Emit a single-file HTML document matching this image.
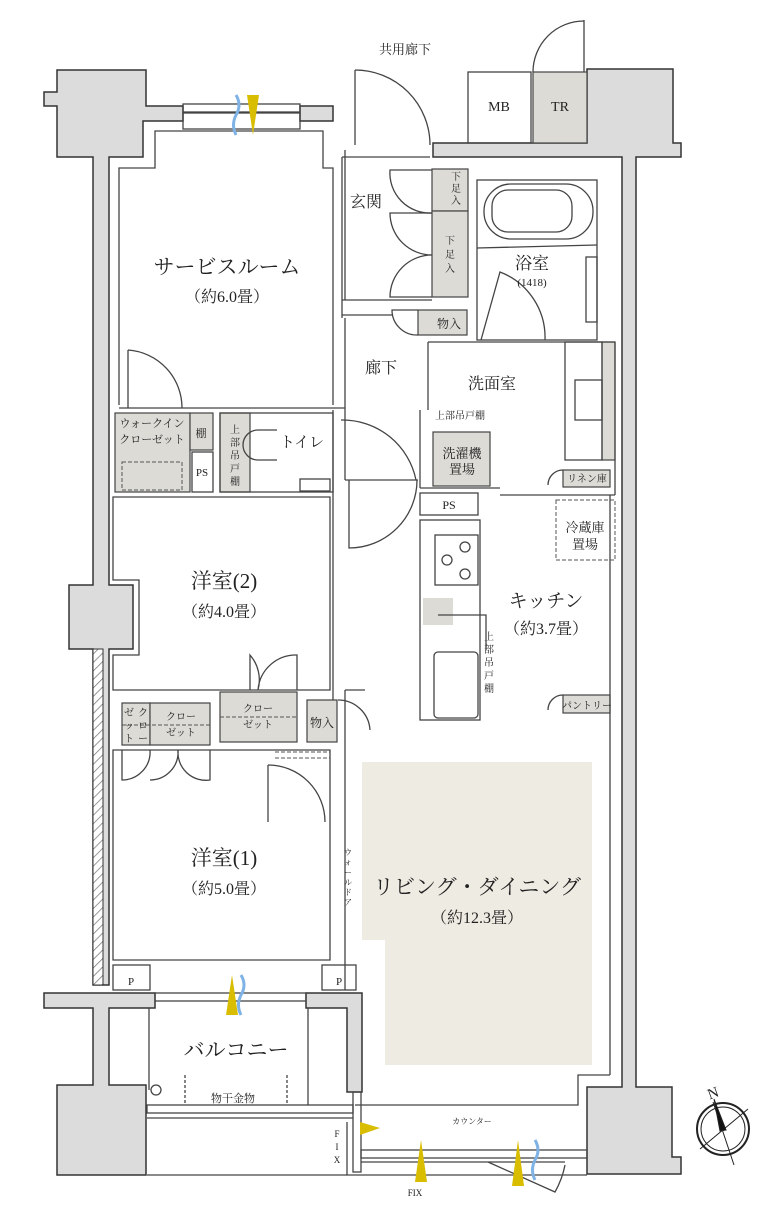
<!DOCTYPE html>
<html><head><meta charset="utf-8"><style>
html,body{margin:0;padding:0;background:#fff}
svg{display:block}
text{font-family:"Liberation Serif","Noto Serif CJK SC","Noto Sans CJK JP",serif;fill:#222}
</style></head><body>
<svg width="759" height="1212" viewBox="0 0 759 1212" xmlns="http://www.w3.org/2000/svg">
<g stroke="#333" stroke-width="1.5" fill="#dcdcdc">
<!-- top-left column -->
<path d="M57,70 H146 V106 H183 V121 H143 V157 H109 V585 H133 V649 H109 V985 H93 V649 H69 V585 H93 V157 H57 V106 H44 V92 H57 Z"/>
<!-- top band to right column -->
<path d="M300,106 H333 V121 H300 Z"/>
<path d="M433,143 H587 V69 H673 V143 H681 V157 H636 V1087 H672 V1157 H681 V1174 H587 V1087 H622 V157 H433 Z"/>
<!-- balcony wall left -->
<path d="M44,993 H155 V1008 H109 V1085 H146 V1175 H57 V1085 H93 V1008 H44 Z"/>
<path d="M306,993 H362 V1092 H347 V1008 H306 Z"/>
</g>
<!-- hatched strip -->
<defs><pattern id="h" width="6" height="6" patternUnits="userSpaceOnUse" patternTransform="rotate(45)"><rect width="6" height="6" fill="#fff"/><line x1="0" y1="0" x2="0" y2="6" stroke="#777" stroke-width="1.5"/></pattern></defs>
<rect x="93" y="649" width="10" height="336" fill="url(#h)" stroke="#333"/>
<!-- LD beige -->
<path d="M362,762 H592 V1065 H385 V940 H362 Z" fill="#eeebe2"/>
<!-- closets gray -->
<g fill="#dcdbd6" stroke="#444" stroke-width="1.2">
<rect x="533" y="72" width="54" height="71"/>
<rect x="432" y="169" width="36" height="42"/><rect x="432" y="211" width="36" height="86"/>
<rect x="418" y="310" width="49" height="25"/>
<rect x="115" y="413" width="75" height="79"/>
<rect x="190" y="413" width="23" height="37"/>
<rect x="220" y="413" width="30" height="79"/>
<rect x="122" y="703" width="28" height="42"/><rect x="150" y="703" width="60" height="42"/>
<rect x="220" y="692" width="77" height="50"/>
<rect x="307" y="700" width="30" height="42"/>
<rect x="602" y="342" width="13" height="118"/>
<rect x="433" y="432" width="57" height="54"/>
<rect x="563" y="470" width="47" height="17"/>
<rect x="563" y="695" width="47" height="18"/>
<rect x="423" y="598" width="30" height="27" stroke="none"/>
</g>
<g fill="none" stroke="#444" stroke-width="1.3">
<!-- MB -->
<rect x="468" y="72" width="63" height="71"/>
<!-- entrance door -->
<line x1="355" y1="70" x2="355" y2="145"/><path d="M355,70 A75,75 0 0 1 430,145"/>
<line x1="584" y1="20" x2="584" y2="72"/><path d="M533,72 A51,51 0 0 1 584,21"/>
<!-- top window -->
<rect x="183" y="104" width="117" height="8"/><rect x="183" y="113" width="117" height="16"/>
<!-- サービスルーム -->
<path d="M119,405 V168 H155 V131 H323 V168 H333 V405"/>
<line x1="345" y1="150" x2="345" y2="300"/><line x1="342" y1="157" x2="430" y2="157"/>
<line x1="119" y1="408" x2="345" y2="408"/>
<line x1="128" y1="350" x2="128" y2="408"/><path d="M128,350 A58,58 0 0 1 182,408"/>
<!-- 玄関 -->
<line x1="342" y1="157" x2="342" y2="318"/>
<line x1="342" y1="300" x2="432" y2="300"/><line x1="342" y1="315" x2="392" y2="315"/>
<path d="M432,170 H390 A40,40 0 0 0 432,213"/><path d="M432,213 H390 A42,42 0 0 0 432,255"/><path d="M432,255 A42,42 0 0 0 390,297 H432"/>
<path d="M418,310 H392 A25,25 0 0 0 418,335"/>
<!-- bath -->
<rect x="477" y="180" width="120" height="160"/>
<rect x="484" y="184" width="109" height="55" rx="27"/><rect x="492" y="190" width="80" height="42" rx="16"/>
<line x1="477" y1="248" x2="597" y2="245"/>
<path d="M481,340 L500,272 A70,70 0 0 1 545,340"/>
<rect x="586" y="257" width="11" height="65"/>
<!-- 洗面 -->
<line x1="428" y1="342" x2="615" y2="342"/><line x1="428" y1="342" x2="428" y2="410"/>
<line x1="420" y1="410" x2="420" y2="488"/>
<rect x="565" y="342" width="37" height="118"/><rect x="575" y="380" width="27" height="40"/>
<line x1="420" y1="488" x2="500" y2="488"/><line x1="500" y1="495" x2="562" y2="495"/>
<line x1="562" y1="495" x2="615" y2="495"/>
<path d="M563,470 A15,15 0 0 0 548,485"/>
<!-- kitchen -->
<rect x="420" y="493" width="58" height="22"/>
<rect x="420" y="520" width="60" height="200"/>
<rect x="435" y="535" width="43" height="50"/>
<circle cx="465" cy="547" r="5"/><circle cx="447" cy="560" r="5"/><circle cx="465" cy="574" r="5"/>
<rect x="434" y="652" width="44" height="66" rx="4"/>
<path d="M438,615 H486 V650"/>
<path d="M563,695 A15,15 0 0 0 548,710"/>
<line x1="610" y1="495" x2="610" y2="1075"/><line x1="615" y1="342" x2="615" y2="495"/>
<path d="M610,1075 H578 V1105 H355"/>
<!-- hallway walls -->
<line x1="333" y1="410" x2="333" y2="700"/><line x1="345" y1="318" x2="345" y2="480"/>
<line x1="345" y1="480" x2="418" y2="480"/>
<path d="M349,480 V548 A68,68 0 0 0 417,480"/>
<path d="M341,420 A75,75 0 0 1 416,480"/>
<line x1="345" y1="690" x2="345" y2="990"/>
<path d="M345,690 H365 M338,700 A32,32 0 0 1 370,730"/>
<!-- toilet -->
<rect x="220" y="413" width="113" height="79"/>
<path d="M277,430 H258 A15,15 0 0 0 258,460 H277"/>
<rect x="300" y="479" width="30" height="12"/>
<rect x="192" y="452" width="21" height="40"/>
<!-- 洋室2 -->
<path d="M113,497 V580 H139 V655 H113 V690 H330 V497 Z"/>
<path d="M250,690 V655 A38,38 0 0 1 258,690 M258,690 A38,38 0 0 1 297,655 V690"/>
<!-- 洋室1 -->
<path d="M113,750 V960 H330 V750 Z"/>
<line x1="268" y1="765" x2="268" y2="822"/><path d="M268,765 A57,57 0 0 1 325,822"/>
<path d="M122,750 V780 A28,28 0 0 0 150,750 M150,780 A28,28 0 0 0 178,750 M178,750 A28,28 0 0 0 210,780 V750"/>
<rect x="113" y="965" width="37" height="25"/><rect x="322" y="965" width="34" height="25"/>
<!-- balcony -->
<rect x="155" y="993" width="151" height="8"/>
<line x1="149" y1="1008" x2="149" y2="1090"/><circle cx="156" cy="1090" r="5"/>
<line x1="308" y1="1008" x2="308" y2="1105"/>
<rect x="147" y="1105" width="206" height="8"/><line x1="147" y1="1118" x2="353" y2="1118"/>
<line x1="147" y1="1175" x2="347" y2="1175"/><path d="M347,1122 V1175 H587"/>
<rect x="353" y="1092" width="8" height="80"/>
<rect x="361" y="1150" width="226" height="8"/><line x1="361" y1="1162" x2="565" y2="1162"/>
<path d="M488,1162 L555,1192 A90,90 0 0 0 565,1165"/>
<line x1="185" y1="1075" x2="185" y2="1105" stroke-dasharray="3,2"/><line x1="287" y1="1075" x2="287" y2="1105" stroke-dasharray="3,2"/>
</g>
<g stroke="#555" stroke-width="1" fill="none" stroke-dasharray="4,2">
<rect x="556" y="500" width="59" height="60"/>
<rect x="122" y="462" width="60" height="28"/>
<line x1="275" y1="752" x2="330" y2="752"/><line x1="275" y1="758" x2="330" y2="758"/>
<line x1="122" y1="725" x2="210" y2="725"/><line x1="220" y1="717" x2="297" y2="717"/>
</g>
<!-- yellow/blue vents -->
<g fill="#d9bd00">
<polygon points="247,95 259,95 253,135"/><polygon points="226,1015 238,1015 232,975"/>
<polygon points="360,1122 360,1135 380,1128"/><polygon points="415,1182 427,1182 421,1140"/>
<polygon points="512,1186 524,1186 518,1140"/>
</g>
<g fill="none" stroke="#7fb3e6" stroke-width="3">
<path d="M236,95 q6,10 0,20 q-5,10 0,20"/><path d="M241,975 q6,10 0,20 q-5,10 0,20"/><path d="M535,1140 q6,10 0,20 q-5,10 0,20"/>
</g>
<!-- compass -->
<g stroke="#222" fill="none">
<circle cx="723" cy="1129" r="26" stroke-width="2"/><circle cx="723" cy="1129" r="22"/>
<line x1="700" y1="1149" x2="748" y2="1109" stroke-width="1"/>
<line x1="713" y1="1102" x2="734" y2="1165" stroke-width="1"/>
<polygon points="714,1099 726,1130 720,1131" fill="#111"/>
</g>
<g text-anchor="middle">
<text x="405" y="54" font-size="13">共用廊下</text>
<text x="499" y="111" font-size="14">MB</text><text x="560" y="111" font-size="14">TR</text>
<text x="227" y="274" font-size="21">サービスルーム</text><text x="227" y="302" font-size="16">（約6.0畳）</text>
<text x="366" y="207" font-size="16">玄関</text>
<text x="532" y="269" font-size="17">浴室</text><text x="532" y="286" font-size="11">(1418)</text>
<text x="381" y="373" font-size="16">廊下</text>
<text x="492" y="389" font-size="16">洗面室</text>
<text x="460" y="419" font-size="10">上部吊戸棚</text>
<text x="462" y="458" font-size="13">洗濯機</text><text x="462" y="474" font-size="13">置場</text>
<text x="587" y="482" font-size="10">リネン庫</text>
<text x="449" y="509" font-size="12">PS</text>
<text x="585" y="532" font-size="13">冷蔵庫</text><text x="585" y="549" font-size="13">置場</text>
<text x="546" y="607" font-size="19">キッチン</text><text x="546" y="634" font-size="16">（約3.7畳）</text>
<text x="587" y="709" font-size="10">パントリー</text>
<text x="449" y="328" font-size="12">物入</text>
<text x="302" y="447" font-size="15">トイレ</text>
<text x="201" y="437" font-size="11">棚</text>
<text x="202" y="476" font-size="11">PS</text>
<text x="152" y="427" font-size="11">ウォークイン</text><text x="152" y="443" font-size="11">クローゼット</text>
<text x="224" y="588" font-size="21">洋室(2)</text><text x="224" y="617" font-size="16">（約4.0畳）</text>
<text x="258" y="712" font-size="10">クロー</text><text x="258" y="728" font-size="10">ゼット</text>
<text x="181" y="720" font-size="10">クロー</text><text x="181" y="736" font-size="10">ゼット</text>
<text x="322" y="727" font-size="12">物入</text>
<text x="224" y="865" font-size="21">洋室(1)</text><text x="224" y="894" font-size="16">（約5.0畳）</text>
<text x="477" y="894" font-size="21">リビング・ダイニング</text><text x="477" y="923" font-size="16">（約12.3畳）</text>
<text x="131" y="985" font-size="11">P</text><text x="339" y="985" font-size="11">P</text>
<text x="236" y="1057" font-size="21">バルコニー</text>
<text x="233" y="1102" font-size="11">物干金物</text>
<text x="472" y="1124" font-size="8">カウンター</text>
<text x="415" y="1196" font-size="9">FIX</text>
<text x="337" y="1137" font-size="9">F</text><text x="337" y="1150" font-size="9">I</text><text x="337" y="1163" font-size="9">X</text>
<text x="713" y="1098" font-size="15" transform="rotate(-20 713 1093)">N</text>
</g>
<g font-size="10" text-anchor="middle">
<text x="456" y="180">下</text><text x="456" y="192">足</text><text x="456" y="204">入</text>
<text x="450" y="244">下</text><text x="450" y="258">足</text><text x="450" y="272">入</text>
<text x="235" y="433">上</text><text x="235" y="446">部</text><text x="235" y="459">吊</text><text x="235" y="472">戸</text><text x="235" y="485">棚</text>
<text x="489" y="640">上</text><text x="489" y="653">部</text><text x="489" y="666">吊</text><text x="489" y="679">戸</text><text x="489" y="692">棚</text>
<text x="129" y="716">ゼ</text><text x="129" y="729">ッ</text><text x="129" y="742">ト</text>
<text x="143" y="716">ク</text><text x="143" y="729">ロ</text><text x="143" y="742">ー</text>
<text x="348" y="855" font-size="8">ウ</text><text x="348" y="865" font-size="8">ォ</text><text x="348" y="875" font-size="8">ー</text><text x="348" y="885" font-size="8">ル</text><text x="348" y="895" font-size="8">ド</text><text x="348" y="905" font-size="8">ア</text>
</g>
</svg>
</body></html>
